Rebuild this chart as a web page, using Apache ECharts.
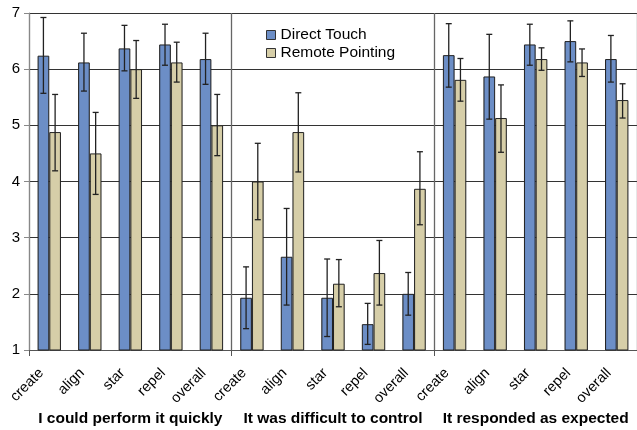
<!DOCTYPE html>
<html><head><meta charset="utf-8">
<script src="https://cdn.jsdelivr.net/npm/echarts@6/dist/echarts.min.js"></script>
<style>html,body{margin:0;padding:0;background:#fff}#c{width:637px;height:430px}</style>
</head><body><div id="c"></div>
<script>
const categories = ['create','align','star','repel','overall','create','align','star','repel','overall','create','align','star','repel','overall'];
const groups = ['I could perform it quickly','It was difficult to control','It responded as expected'];
const seriesNames = ['Direct Touch','Remote Pointing'];
const directTouch = [6.24,6.12,6.37,6.44,6.18, 1.93,2.66,1.93,1.46,2.0, 6.25,5.87,6.44,6.50,6.18];
const directLow   = [5.57,5.61,5.97,6.07,5.73, 1.38,1.80,1.24,1.10,1.62, 5.68,5.11,6.07,6.13,5.77];
const directHigh  = [6.92,6.64,6.78,6.80,6.64, 2.48,3.52,2.62,1.83,2.38, 6.81,6.62,6.80,6.86,6.60];
const remote      = [4.88,4.50,6.00,6.12,5.00, 4.00,4.88,2.18,2.37,3.87, 5.81,5.13,6.18,6.12,5.45];
const remoteLow   = [4.19,3.77,5.48,5.77,4.46, 3.32,4.17,1.77,1.80,3.23, 5.43,4.52,5.98,5.87,5.13];
const remoteHigh  = [5.55,5.23,6.51,6.48,5.55, 4.68,5.58,2.61,2.95,4.53, 6.19,5.72,6.38,6.36,5.74];
const yTicks = [1,2,3,4,5,6,7];

const BW = 11.7;
const blue = '#6C8EC6', tan = '#D6CEA8';
function grad(c, edge){
  return new echarts.graphic.LinearGradient(0,0,1,0,[
    {offset:0,color:edge},{offset:0.15,color:c},{offset:0.85,color:c},{offset:1,color:edge}]);
}
function errSeries(low, high, side){
  return {
    type:'custom', xAxisIndex:0, yAxisIndex:0, z:10, silent:true,
    data: low.map((l,i)=>[i,l,high[i]]),
    encode:{x:0,y:[1,2]},
    renderItem:function(params, api){
      const i = api.value(0);
      const p1 = api.coord([i, api.value(1)]);
      const p2 = api.coord([i, api.value(2)]);
      const x = p1[0] + side*BW/2;
      const cap = 3;
      const st = {stroke:'#222', lineWidth:1.3};
      return {type:'group', children:[
        {type:'line', shape:{x1:x,y1:p1[1],x2:x,y2:p2[1]}, style:st},
        {type:'line', shape:{x1:x-cap,y1:p1[1],x2:x+cap,y2:p1[1]}, style:st},
        {type:'line', shape:{x1:x-cap,y1:p2[1],x2:x+cap,y2:p2[1]}, style:st}
      ]};
    }
  };
}
const chart = echarts.init(document.getElementById('c'));
chart.setOption({
  animation:false,
  textStyle:{fontFamily:'Liberation Sans, Arial, sans-serif'},
  grid:{left:29, right:-4, top:13, bottom:80, containLabel:false},
  legend:{
    orient:'vertical', left:261, top:22, itemWidth:9, itemHeight:9, itemGap:2,
    textStyle:{fontSize:15.5, color:'#000', fontFamily:'Liberation Sans, Arial, sans-serif'},
    data:[
      {name:seriesNames[0], icon:'rect', itemStyle:{color:blue, borderColor:'#333', borderWidth:1}},
      {name:seriesNames[1], icon:'rect', itemStyle:{color:tan, borderColor:'#333', borderWidth:1}}
    ]
  },
  xAxis:[
    {type:'category', data:categories, position:'bottom',
     axisLine:{show:true, lineStyle:{color:'#555', width:1}},
     axisTick:{show:false},
     axisLabel:{rotate:45, fontSize:14.5, color:'#000', margin:13, interval:0, padding:[0,11,0,0]}},
    {type:'category', data:groups, position:'bottom',
     axisLine:{show:false},
     axisTick:{show:true, length:6, lineStyle:{color:'#555'}},
     axisLabel:{fontSize:15.5, fontWeight:'bold', color:'#000', margin:61, interval:0},
     splitLine:{show:true, lineStyle:{color:'#666', width:1.3}}}
  ],
  yAxis:{type:'value', min:1, max:7, interval:1,
    axisLine:{show:true, lineStyle:{color:'#888'}},
    axisTick:{show:true, length:5, inside:false, lineStyle:{color:'#888'}},
    axisLabel:{fontSize:15, color:'#000', margin:9, formatter:v=>yTicks.includes(v)?String(v):''},
    splitLine:{show:true, lineStyle:{color:'#333', width:1.2}}},
  series:[
    {name:seriesNames[0], type:'bar', data:directTouch, barWidth:BW, barGap:'0%',
     itemStyle:{color:grad(blue,'#4F6E9F'), borderColor:'#222', borderWidth:1}},
    {name:seriesNames[1], type:'bar', data:remote, barWidth:BW, barGap:'0%',
     itemStyle:{color:grad(tan,'#B2AA86'), borderColor:'#222', borderWidth:1}},
    errSeries(directLow, directHigh, -1),
    errSeries(remoteLow, remoteHigh, 1)
  ]
});
</script></body></html>
